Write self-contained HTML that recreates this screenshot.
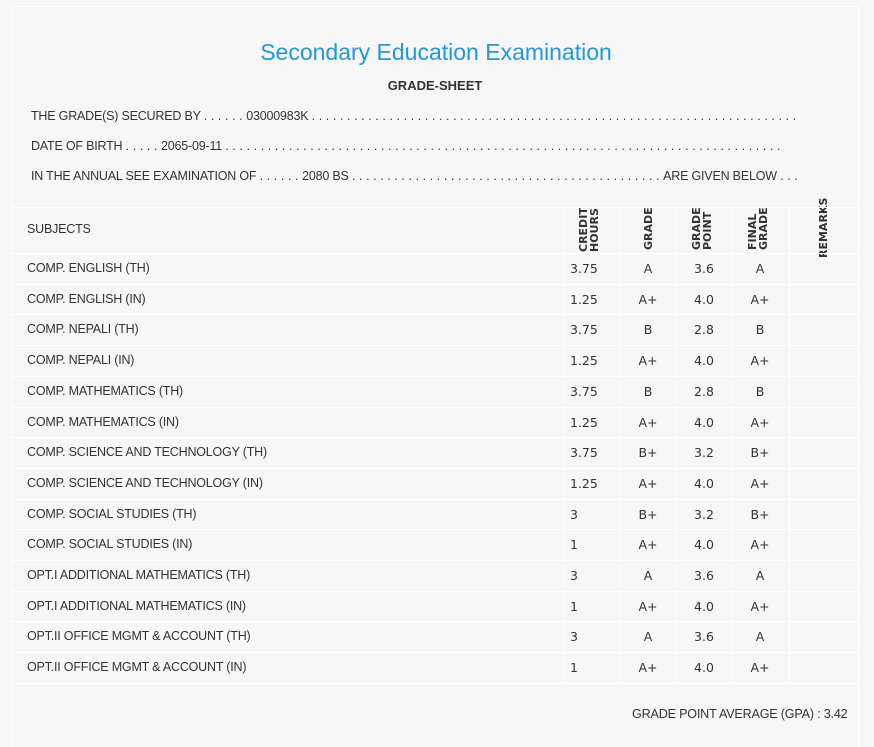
<!DOCTYPE html>
<html><head><meta charset="utf-8"><style>
body{margin:0;width:874px;height:739px;background:#f7f7f7;font-family:"Liberation Sans",sans-serif;color:#333;position:relative;overflow:hidden}
#panel{position:absolute;left:11px;top:6px;width:846px;height:740px;border:1px solid #fff;border-bottom:none}
.abs{position:absolute;white-space:nowrap}
.t{font-size:12.5px;letter-spacing:-0.2px;color:#333}
.d{letter-spacing:3.6px}
.n{font-family:"DejaVu Sans",sans-serif;font-size:12.5px;color:#333}
.hl{position:absolute;height:1px;background:#fff}
.vl{position:absolute;width:1px;background:#fff}
.rot{position:absolute;font-family:"DejaVu Sans",sans-serif;font-weight:bold;font-size:11px;line-height:11px;transform:rotate(-90deg);transform-origin:left top;text-align:left;color:#333}
</style></head><body>
<div id="panel"></div>
<div class="abs" style="left:0;width:872px;text-align:center;top:39px;font-size:23px;color:#2196e3">Secondary Education Examination</div>
<div class="abs" style="left:0;width:870px;text-align:center;top:78px;font-size:13px;font-weight:bold;color:#333">GRADE-SHEET</div>
<div class="abs t" style="left:31px;top:109px">THE GRADE(S) SECURED BY <span class="d">......</span>03000983K <span class="d">.....................................................................</span></div>
<div class="abs t" style="left:31px;top:139px">DATE OF BIRTH <span class="d">.....</span>2065-09-11 <span class="d">...............................................................................</span></div>
<div class="abs t" style="left:31px;top:169px">IN THE ANNUAL SEE EXAMINATION OF <span class="d">......</span>2080 BS <span class="d">............................................</span>ARE GIVEN BELOW <span class="d">...</span></div>
<div class="abs t" style="left:27px;top:222px">SUBJECTS</div>
<div class="rot" style="left:578px;top:252px">CREDIT<br>HOURS</div>
<div class="rot" style="left:643px;top:250px">GRADE</div>
<div class="rot" style="left:691px;top:250px">GRADE<br>POINT</div>
<div class="rot" style="left:747px;top:250px">FINAL<br>GRADE</div>
<div class="rot" style="left:818px;top:258px">REMARKS</div>
<div class="abs t" style="left:632px;top:707px;font-size:12.6px">GRADE POINT AVERAGE (GPA) : 3.42</div>
<div id="rows"></div>
<script>
const subjects=["COMP. ENGLISH (TH)","COMP. ENGLISH (IN)","COMP. NEPALI (TH)","COMP. NEPALI (IN)","COMP. MATHEMATICS (TH)","COMP. MATHEMATICS (IN)","COMP. SCIENCE AND TECHNOLOGY (TH)","COMP. SCIENCE AND TECHNOLOGY (IN)","COMP. SOCIAL STUDIES (TH)","COMP. SOCIAL STUDIES (IN)","OPT.I ADDITIONAL MATHEMATICS (TH)","OPT.I ADDITIONAL MATHEMATICS (IN)","OPT.II OFFICE MGMT & ACCOUNT (TH)","OPT.II OFFICE MGMT & ACCOUNT (IN)"];
const creditHours=["3.75","1.25","3.75","1.25","3.75","1.25","3.75","1.25","3","1","3","1","3","1"];
const grades=["A","A+","B","A+","B","A+","B+","A+","B+","A+","A","A+","A","A+"];
const gradePoints=["3.6","4.0","2.8","4.0","2.8","4.0","3.2","4.0","3.2","4.0","3.6","4.0","3.6","4.0"];
const finalGrades=["A","A+","B","A+","B","A+","B+","A+","B+","A+","A","A+","A","A+"];
const root=document.getElementById('rows');
const top0=253,rh=30.7,L=12,R=858;
function mk(cls,txt,x,y,center){const d=document.createElement('div');d.className='abs '+cls;d.textContent=txt;d.style.top=y+'px';
if(center){d.style.left=(x-30)+'px';d.style.width='60px';d.style.textAlign='center';}else d.style.left=x+'px';root.appendChild(d);return d;}
function line(cls,x,y,w,h){const d=document.createElement('div');d.className=cls;d.style.left=x+'px';d.style.top=y+'px';if(w)d.style.width=w+'px';if(h)d.style.height=h+'px';root.appendChild(d);return d;}
let h=line('hl',L,207,R-L,0);


const bottom=top0+rh*subjects.length;
[563,620,676,732,789].forEach(x=>{const v=line('vl',x,207,0,bottom-207);

});
subjects.forEach((s,i)=>{
 const y=top0+rh*i;
 const l=line('hl',L,Math.round(y),R-L,0);
 
 
 const ty=Math.round(y+8);
 let a=mk('t',s,27,ty,false);
 
 
 a=mk('n',creditHours[i],570,ty,false);
 
 
 a=mk('n',grades[i],648,ty,true);
 
 
 a=mk('n',gradePoints[i],704,ty,true);
 
 
 a=mk('n',finalGrades[i],760,ty,true);
 
 
});
const b=line('hl',L,Math.round(bottom),R-L,0);


</script>
</body></html>
